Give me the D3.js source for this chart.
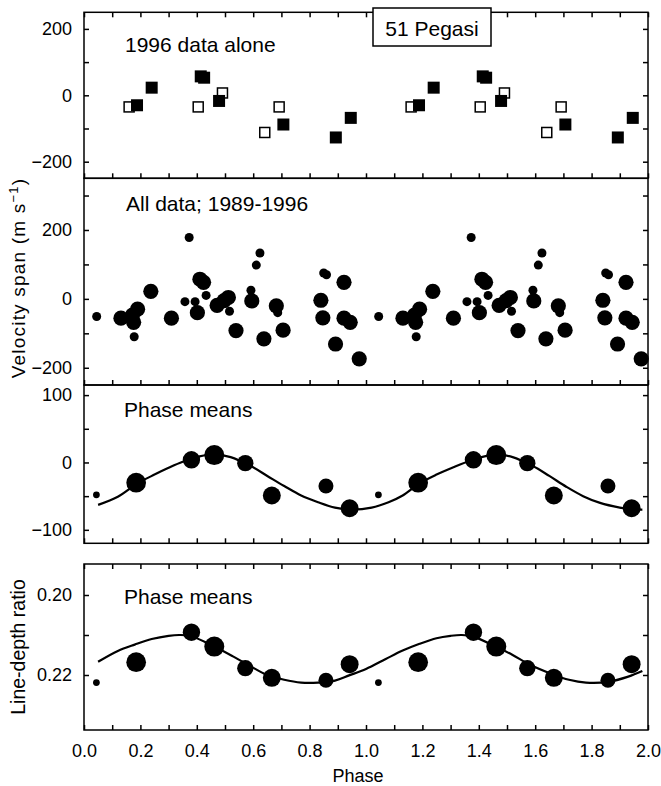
<!DOCTYPE html>
<html><head><meta charset="utf-8">
<script src="https://cdn.jsdelivr.net/npm/d3@7"></script>
<style>
body{margin:0;background:#fff}
text{font-family:"Liberation Sans",Arial,Helvetica,sans-serif;fill:#000}
</style>
</head><body>
<svg id="c" width="661" height="786"></svg>
<script>
// ---------------- DATA ----------------
const cycles = [0, 1]; // phase-folded data is shown over two cycles
const xTickValues = [0,0.1,0.2,0.3,0.4,0.5,0.6,0.7,0.8,0.9,1.0,1.1,1.2,1.3,1.4,1.5,1.6,1.7,1.8,1.9,2.0];
const xTickLabels = ["0.0","0.2","0.4","0.6","0.8","1.0","1.2","1.4","1.6","1.8","2.0"];

// Panel 1: 1996 data alone (phase, velocity m/s)
const data1996Filled = [[0.188,-30],[0.240,23],[0.414,57],[0.426,53],[0.479,-17],[0.707,-88],[0.893,-127],[0.946,-68]];
const data1996Open = [[0.160,-35],[0.405,-35],[0.491,7],[0.641,-112],[0.692,-35]];
const p1Ticks = [-200,-100,0,100,200];
const p1Labels = [-200,0,200];

// Panel 2: all data 1989-1996 (phase, velocity, weight class: 1 = large, 0 = small)
const allData = [
 [0.045,-51,0],[0.131,-56,1],[0.172,-47,1],[0.190,-30,1],[0.176,-68,1],[0.178,-110,0],
 [0.237,22,1],[0.310,-56,1],[0.373,178,0],[0.358,-8,0],[0.394,-8,0],[0.411,57,1],
 [0.424,48,1],[0.402,-40,1],[0.433,10,0],[0.472,-19,1],[0.497,-5,1],[0.512,4,1],
 [0.516,-36,0],[0.539,-92,1],[0.592,25,0],[0.595,-6,1],[0.611,98,0],[0.624,133,0],
 [0.638,-116,1],[0.682,-20,1],[0.687,-40,0],[0.706,-91,1],[0.850,75,0],[0.860,70,0],
 [0.840,-4,1],[0.847,-55,1],[0.892,-131,1],[0.922,48,1],[0.922,-56,1],[0.944,-68,1],
 [0.976,-174,1]
];
const p2Ticks = [-200,-100,0,100,200,300];
const p2Labels = [-200,0,200];

// Panels 3 & 4: phase means
const meanPhase = [0.044,0.185,0.381,0.462,0.572,0.666,0.858,0.942];
const meanVelocity = [-48,-30,4,11,-1,-49,-35,-68];
const meanRatio = [0.2219,0.2168,0.2093,0.2129,0.2183,0.2207,0.2213,0.2173];
const meanWeight = [1,9.8,8.2,10,7.5,8.6,6.6,8.6];

// fitted curves (phase, value)
const velCurve = [[0.05,-63],[0.12,-51],[0.19,-31],[0.25,-18],[0.30,-8],[0.35,1],[0.41,9],[0.46,12],
 [0.52,8],[0.59,-5],[0.65,-20],[0.71,-35],[0.77,-49],[0.83,-59],[0.89,-67],[0.95,-70],[1.02,-67],
 [1.08,-59],[1.13,-49],[1.19,-31],[1.25,-18],[1.31,-7],[1.38,4],[1.46,12],[1.52,8],[1.59,-5],
 [1.65,-20],[1.71,-36],[1.77,-50],[1.83,-60],[1.90,-67],[1.95,-70],[1.98,-70]];
const ratioCurve = [[0.05,0.2167],[0.12,0.2140],[0.18,0.2124],[0.24,0.2110],[0.30,0.2102],[0.34,0.2100],
 [0.38,0.2103],[0.46,0.2128],[0.53,0.2154],[0.59,0.2178],[0.65,0.2200],[0.71,0.2212],[0.77,0.2219],
 [0.83,0.2219],[0.89,0.2214],[0.94,0.2201],[1.00,0.2185],[1.07,0.2160],[1.13,0.2139],[1.19,0.2122],
 [1.25,0.2108],[1.30,0.2102],[1.34,0.2100],[1.38,0.2104],[1.46,0.2129],[1.52,0.2150],[1.58,0.2174],
 [1.66,0.2198],[1.72,0.2212],[1.78,0.2219],[1.86,0.2217],[1.93,0.2204],[1.98,0.2190]];
const p3Ticks = [-100,-50,0,50,100];
const p3Labels = [-100,0,100];
const p4Ticks = [0.20,0.21,0.22];
const p4Labels = [0.20,0.22];

// ---------------- LAYOUT ----------------
const svg = d3.select("#c");
const X0 = 84, X1 = 648;
const x = d3.scaleLinear().domain([0,2]).range([X0,X1]);
const panels = [
  {y: d3.scaleLinear().domain([-250,250]).range([178.3,12.3]), top:12.3, bot:178.3, ticks:p1Ticks, labels:p1Labels, fmt:d3.format("d"), topTicks:true},
  {y: d3.scaleLinear().domain([-250,350]).range([385,178.3]), top:178.3, bot:385, ticks:p2Ticks, labels:p2Labels, fmt:d3.format("d"), topTicks:false},
  {y: d3.scaleLinear().domain([-120,115]).range([543.3,385]), top:385, bot:543.3, ticks:p3Ticks, labels:p3Labels, fmt:d3.format("d"), topTicks:false},
  {y: d3.scaleLinear().domain([0.23375,0.19225]).range([730,564]), top:564, bot:730, ticks:p4Ticks, labels:p4Labels, fmt:d3.format(".2f"), topTicks:true}
];
const SW = 1.5, TICK = 5, FS = 18;

function styleAxis(g){
  g.select(".domain").remove();
  g.selectAll("line").attr("stroke","#000").attr("stroke-width",SW);
  g.selectAll("text").attr("font-size",FS).attr("fill","#000")
   .style("font-family",'"Liberation Sans",Arial,Helvetica,sans-serif');
}
function near(a,b){return Math.abs(a-b)<1e-9;}

panels.forEach((p,i)=>{
  // left axis
  svg.append("g").attr("transform",`translate(${X0},0)`)
    .call(d3.axisLeft(p.y).tickValues(p.ticks).tickSize(-TICK).tickSizeOuter(0).tickPadding(12)
      .tickFormat(d=> p.labels.some(l=>near(l,d)) ? p.fmt(d) : ""))
    .call(styleAxis);
  // right axis
  svg.append("g").attr("transform",`translate(${X1},0)`)
    .call(d3.axisRight(p.y).tickValues(p.ticks).tickSize(-TICK).tickSizeOuter(0).tickFormat(""))
    .call(styleAxis);
  // bottom ticks (inward)
  const isLast = i===3;
  svg.append("g").attr("transform",`translate(0,${p.bot})`)
    .call(d3.axisBottom(x).tickValues(xTickValues).tickSize(-TICK).tickSizeOuter(0).tickPadding(14)
      .tickFormat(d=> isLast && xTickLabels.includes(d3.format(".1f")(d)) ? d3.format(".1f")(d) : ""))
    .call(styleAxis);
  if(p.topTicks){
    svg.append("g").attr("transform",`translate(0,${p.top})`)
      .call(d3.axisTop(x).tickValues(xTickValues).tickSize(-TICK).tickSizeOuter(0).tickFormat(""))
      .call(styleAxis);
  }
  // frame
  svg.append("rect").attr("x",X0).attr("y",p.top).attr("width",X1-X0).attr("height",p.bot-p.top)
    .attr("fill","none").attr("stroke","#000").attr("stroke-width",SW);
});

// Panel 1 squares
const P1 = panels[0];
cycles.forEach(c=>{
  svg.append("g").selectAll("rect").data(data1996Open).join("rect")
    .attr("x",d=>x(d[0]+c)-5).attr("y",d=>P1.y(d[1])-5).attr("width",10).attr("height",10)
    .attr("fill","#fff").attr("stroke","#000").attr("stroke-width",1.5);
});
cycles.forEach(c=>{
  svg.append("g").selectAll("rect").data(data1996Filled).join("rect")
    .attr("x",d=>x(d[0]+c)-6).attr("y",d=>P1.y(d[1])-6).attr("width",12).attr("height",12)
    .attr("fill","#000");
});

// Panel 2 circles
const P2 = panels[1];
cycles.forEach(c=>{
  svg.append("g").selectAll("circle").data(allData).join("circle")
    .attr("cx",d=>x(d[0]+c)).attr("cy",d=>P2.y(d[1])).attr("r",d=>d[2]?7.6:4.5).attr("fill","#000");
});

// Panel 3 & 4
const rScale = d3.scaleLinear().domain([1,10]).range([3.4,10]);
[[panels[2],meanVelocity,velCurve],[panels[3],meanRatio,ratioCurve]].forEach(([P,vals,curve])=>{
  svg.append("path").datum(curve)
    .attr("d",d3.line().x(d=>x(d[0])).y(d=>P.y(d[1])).curve(d3.curveCatmullRom.alpha(0.5)))
    .attr("fill","none").attr("stroke","#000").attr("stroke-width",2.2);
  cycles.forEach(c=>{
    svg.append("g").selectAll("circle").data(meanPhase).join("circle")
      .attr("cx",(d)=>x(d+c)).attr("cy",(d,i)=>P.y(vals[i])).attr("r",(d,i)=>rScale(meanWeight[i]))
      .attr("fill","#000");
  });
});

// annotations
const ann = [["1996 data alone",125,51.7],["All data; 1989-1996",126,211],["Phase means",124,417.3],["Phase means",124,604.3]];
ann.forEach(a=>svg.append("text").attr("x",a[1]).attr("y",a[2]).attr("font-size",21).text(a[0]));

// title box
svg.append("rect").attr("x",373).attr("y",8).attr("width",118).attr("height",38)
  .attr("fill","#fff").attr("stroke","#000").attr("stroke-width",1.5);
svg.append("text").attr("x",432).attr("y",36).attr("text-anchor","middle").attr("font-size",21).text("51 Pegasi");

// axis titles
const vl = svg.append("text").attr("transform","translate(25,278) rotate(-90)").attr("text-anchor","middle")
  .attr("font-size",19).attr("letter-spacing",1.2);
vl.append("tspan").text("Velocity span (m s");
vl.append("tspan").attr("dy",-7).attr("font-size",13).text("\u22121");
vl.append("tspan").attr("dy",7).text(")");
svg.append("text").attr("transform","translate(25,647) rotate(-90)").attr("text-anchor","middle")
  .attr("font-size",19.5).text("Line-depth ratio");
svg.append("text").attr("x",358).attr("y",782).attr("text-anchor","middle").attr("font-size",18).text("Phase");
</script>
</body></html>
